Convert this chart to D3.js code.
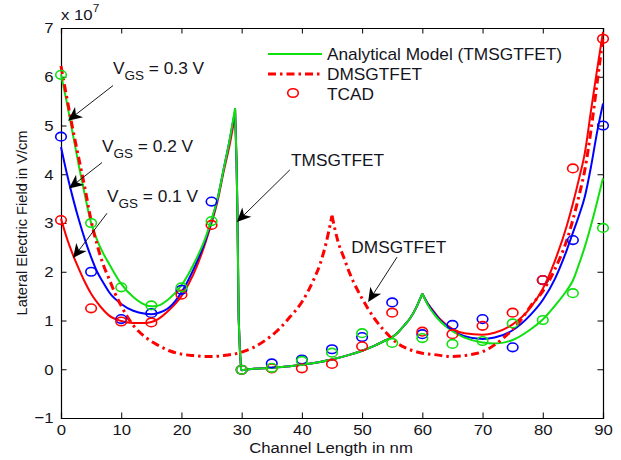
<!DOCTYPE html>
<html>
<head>
<meta charset="utf-8">
<script src="https://cdn.jsdelivr.net/npm/d3@7"></script>
<style>
  html, body { margin: 0; padding: 0; background: #fff; }
  svg { display: block; }
  text { font-family: "Liberation Sans", Arial, sans-serif; fill: #141420; }
</style>
</head>
<body>
<svg id="chart" width="621" height="460"></svg>
<script>
// ---- Lateral electric field along the channel (units of 1e7 V/cm) ----

// Tick values
const xTicks = [0, 10, 20, 30, 40, 50, 60, 70, 80, 90];
const yTicks = [-1, 0, 1, 2, 3, 4, 5, 6, 7];

// TMSGTFET analytical model, source-side region (0 – 28.9 nm)
const leftX     = [0, 1, 2, 3, 4, 5, 6, 7, 8, 10, 12, 14, 15, 16, 18, 20, 22, 24, 25, 26, 27, 28, 28.9];
const leftV03   = [6.05, 5.45, 4.8, 4.15, 3.55, 3.0, 2.65, 2.38, 2.16, 1.75, 1.48, 1.32, 1.29, 1.3, 1.45, 1.72, 2.15, 2.7, 3.08, 3.5, 4.1, 4.7, 5.35];
const leftV02   = [4.56, 4.0, 3.5, 3.05, 2.65, 2.3, 2.0, 1.78, 1.58, 1.34, 1.2, 1.14, 1.13, 1.15, 1.27, 1.58, 2.05, 2.65, 3.04, 3.5, 4.1, 4.7, 5.3];
const leftV01   = [3.09, 2.68, 2.34, 2.05, 1.78, 1.55, 1.37, 1.22, 1.1, 0.99, 0.95, 0.95, 0.97, 1.02, 1.22, 1.5, 1.95, 2.6, 3.0, 3.45, 4.05, 4.6, 5.2];

// Field drop at the first metal interface (shared by all biases)
const dropX     = [28.9, 29.15, 29.3, 29.4, 29.5, 29.7, 29.9, 30];
const dropV     = [5.35, 4.25, 3.2, 2.1, 1.05, 0.4, 0.0, -0.02];

// Middle region (30 – 60 nm), identical for all biases
const midX      = [30, 32, 35, 38, 40, 43, 45, 48, 50, 52, 54, 55, 56, 57, 58, 59, 60];
const midV      = [-0.02, 0.01, 0.03, 0.06, 0.09, 0.15, 0.2, 0.3, 0.38, 0.48, 0.6, 0.66, 0.76, 0.9, 1.05, 1.27, 1.55];

// Drain-side region (60 – 90 nm)
const rightX    = [60, 61, 62, 63, 65, 67, 70, 72, 75, 78, 80, 82, 84, 85, 86, 87, 88, 89, 90];
const rightV03  = [1.55, 1.3, 1.12, 0.98, 0.78, 0.65, 0.55, 0.53, 0.6, 0.82, 1.02, 1.3, 1.62, 1.82, 2.15, 2.52, 2.95, 3.42, 3.92];
const rightV02  = [1.55, 1.32, 1.15, 1.0, 0.8, 0.68, 0.62, 0.65, 0.8, 1.12, 1.42, 1.85, 2.45, 2.8, 3.15, 3.55, 4.15, 4.85, 5.45];
const rightV01  = [1.55, 1.33, 1.17, 1.02, 0.83, 0.74, 0.71, 0.75, 0.92, 1.27, 1.65, 2.22, 2.95, 3.4, 3.9, 4.45, 5.3, 6.13, 6.92];

// DMSGTFET reference device (two branches meeting at the 45 nm peak)
const dmsgX1    = [0, 1, 2, 3, 4, 5, 6, 7, 8, 9, 10, 11, 12, 14, 16, 18, 20, 22, 25, 27, 30, 32, 34, 36, 38, 40, 42, 43, 44, 45];
const dmsgV1    = [6.22, 5.55, 4.9, 4.3, 3.7, 3.05, 2.55, 2.15, 1.85, 1.55, 1.3, 1.08, 0.9, 0.66, 0.5, 0.38, 0.31, 0.28, 0.26, 0.28, 0.35, 0.45, 0.6, 0.8, 1.07, 1.38, 1.85, 2.15, 2.58, 3.15];
const dmsgX2    = [45, 46, 47, 48, 50, 52, 54, 56, 58, 60, 62, 65, 68, 70, 72, 74, 76, 78, 80, 82, 84, 86, 87, 88, 89, 90];
const dmsgV2    = [3.15, 2.62, 2.28, 1.95, 1.45, 1.05, 0.75, 0.52, 0.4, 0.33, 0.3, 0.26, 0.3, 0.36, 0.5, 0.7, 0.95, 1.3, 1.6, 2.05, 2.65, 3.55, 4.1, 4.9, 5.85, 6.8];

// TCAD simulation points
const tcadX     = [0, 5, 10, 15, 20, 25, 30, 35, 40, 45, 50, 55, 60, 65, 70, 75, 80, 85, 90];
const tcadV03   = [6.04, 3.0, 1.68, 1.31, 1.68, 3.04, -0.01, 0.03, 0.17, 0.34, 0.74, 0.54, 0.64, 0.52, 0.58, 0.94, 1.01, 1.56, 2.9];
const tcadV02   = [4.77, 2.0, 1.03, 1.15, 1.63, 3.44, -0.01, 0.12, 0.2, 0.41, 0.66, 1.37, 0.72, 0.91, 1.03, 0.45, 1.83, 2.65, 5.0];
const tcadV01   = [3.06, 1.25, 0.98, 0.96, 1.53, 2.96, -0.01, 0.02, 0.02, 0.11, 0.47, 1.16, 0.77, 0.72, 0.89, 1.16, 1.83, 4.12, 6.78];

// Text callouts: label, arrow start and arrow tip in data units
const callouts = [
  { main: "V", sub: "GS", rest: " = 0.3 V", at: [8.64, 6.05], from: [8.64, 5.82], to: [1.16, 5.1] },
  { main: "V", sub: "GS", rest: " = 0.2 V", at: [6.81, 4.45], from: [6.81, 4.24], to: [1.33, 3.71] },
  { main: "V", sub: "GS", rest: " = 0.1 V", at: [7.64, 3.43], from: [7.64, 3.2],  to: [1.99, 2.28] },
  { main: "TMSGTFET", at: [38.2, 4.17], from: [38.0, 4.09], to: [29.2, 3.02] },
  { main: "DMSGTFET", at: [48.2, 2.38], from: [55.8, 2.3],  to: [51.0, 1.38] }
];

const legendItems = ["Analytical Model (TMSGTFET)", "DMSGTFET", "TCAD"];

// ---- Drawing ----
const GREEN = "#10e010", BLUE = "#0000ff", RED = "#ff0000";
const FS = 15.5, SX = 1.08;

const svg = d3.select("#chart");
const x = d3.scaleLinear().domain([0, 90]).range([61, 603]);
const y = d3.scaleLinear().domain([-1, 7]).range([418, 28]);

const line = d3.line().x(d => x(d[0])).y(d => y(d[1])).curve(d3.curveMonotoneX);
const straight = d3.line().x(d => x(d[0])).y(d => y(d[1]));
const zip = (xs, vs) => xs.map((v, i) => [v, vs[i]]);

// Axes box with inward ticks
const tick = 5.5;
svg.append("g").attr("transform", `translate(0,${y(-1)})`)
  .call(d3.axisBottom(x).tickValues(xTicks).tickSize(-tick).tickPadding(6));
svg.append("g").attr("transform", `translate(${x(0)},0)`)
  .call(d3.axisLeft(y).tickValues(yTicks).tickSize(-tick).tickPadding(7));
svg.append("g").attr("transform", `translate(0,${y(7)})`)
  .call(d3.axisTop(x).tickValues(xTicks).tickSize(-tick).tickFormat(""));
svg.append("g").attr("transform", `translate(${x(90)},0)`)
  .call(d3.axisRight(y).tickValues(yTicks).tickSize(-tick).tickFormat(""));
svg.selectAll(".domain").attr("stroke", "#000").attr("stroke-width", 1.2);
svg.selectAll(".tick line").attr("stroke", "#000").attr("stroke-width", 1);
svg.selectAll(".tick text")
  .attr("font-size", FS).attr("font-family", "Liberation Sans, Arial, sans-serif")
  .attr("fill", "#141420").attr("transform", `scale(${SX},1)`);

// Exponent marker
const ex = svg.append("text").attr("transform", `translate(${x(0)},20) scale(${SX},1)`)
  .attr("font-size", FS);
ex.append("tspan").text("x 10");
ex.append("tspan").attr("font-size", 11).attr("dy", -8).text("7");

// Axis titles
svg.append("text").attr("transform", `translate(331,453) scale(${SX},1)`)
  .attr("text-anchor", "middle").attr("font-size", FS).text("Channel Length in nm");
svg.append("text").attr("transform", `translate(26.5,${y(3)}) rotate(-90)`)
  .attr("text-anchor", "middle").attr("font-size", 14.6).text("Lateral Electric Field in V/cm");

// Model curves (TMSGTFET) for each gate bias
const plot = svg.append("g");
const series = [
  { color: RED,   left: leftV01, right: rightV01 },
  { color: BLUE,  left: leftV02, right: rightV02 },
  { color: GREEN, left: leftV03, right: rightV03 }
];
series.forEach(s => {
  const g = plot.append("g").attr("fill", "none").attr("stroke", s.color).attr("stroke-width", 2);
  g.append("path").attr("d", line(zip(leftX, s.left)));
  g.append("path").attr("d", straight(zip(dropX, dropV)));
  g.append("path").attr("d", line(zip(midX, midV)));
  g.append("path").attr("d", line(zip(rightX, s.right)));
});

// DMSGTFET curve
const dash = "8,4,2.5,4";
const gd = plot.append("g").attr("fill", "none").attr("stroke", RED)
  .attr("stroke-width", 3).attr("stroke-dasharray", dash);
gd.append("path").attr("d", line(zip(dmsgX1, dmsgV1)));
gd.append("path").attr("d", line(zip(dmsgX2, dmsgV2)));

// TCAD markers
[[tcadV02, BLUE], [tcadV01, RED], [tcadV03, GREEN]].forEach(([vals, c]) => {
  plot.append("g").selectAll("ellipse").data(zip(tcadX, vals)).join("ellipse")
    .attr("cx", d => x(d[0])).attr("cy", d => y(d[1]))
    .attr("rx", 5.3).attr("ry", 4.3)
    .attr("fill", "none").attr("stroke", c).attr("stroke-width", 1.6);
});

// Callouts with arrows
function arrowHead(x0, y0, x1, y1) {
  const a = Math.atan2(y1 - y0, x1 - x0), L = 14, W = 6.5, N = 10;
  const ux = Math.cos(a), uy = Math.sin(a), px = -uy, py = ux;
  return `M${x1},${y1}L${x1 - ux * L + px * W},${y1 - uy * L + py * W}` +
         `L${x1 - ux * N},${y1 - uy * N}L${x1 - ux * L - px * W},${y1 - uy * L - py * W}Z`;
}
callouts.forEach(c => {
  const x0 = x(c.from[0]), y0 = y(c.from[1]), x1 = x(c.to[0]), y1 = y(c.to[1]);
  const a = Math.atan2(y1 - y0, x1 - x0);
  svg.append("line").attr("x1", x0).attr("y1", y0)
    .attr("x2", x1 - Math.cos(a) * 9).attr("y2", y1 - Math.sin(a) * 9)
    .attr("stroke", "#000").attr("stroke-width", 0.9);
  svg.append("path").attr("d", arrowHead(x0, y0, x1, y1)).attr("fill", "#000");
  const t = svg.append("text").attr("transform", `translate(${x(c.at[0])},${y(c.at[1])}) scale(${SX},1)`)
    .attr("font-size", 16);
  t.append("tspan").text(c.main);
  if (c.sub) {
    t.append("tspan").attr("font-size", 12.5).attr("dy", 6).text(c.sub);
    t.append("tspan").attr("dy", -6).text(c.rest);
  }
});

// Legend
const lg = svg.append("g");
const lx0 = 268, lx1 = 322, ly = [54, 74, 94];
lg.append("line").attr("x1", lx0).attr("x2", lx1).attr("y1", ly[0]).attr("y2", ly[0])
  .attr("stroke", GREEN).attr("stroke-width", 2);
lg.append("line").attr("x1", lx0).attr("x2", lx1).attr("y1", ly[1]).attr("y2", ly[1])
  .attr("stroke", RED).attr("stroke-width", 3).attr("stroke-dasharray", dash);
lg.append("ellipse").attr("cx", (lx0 + lx1) / 2 - 2).attr("cy", ly[2] - 1).attr("rx", 5.3).attr("ry", 4.3)
  .attr("fill", "none").attr("stroke", RED).attr("stroke-width", 1.6);
legendItems.forEach((name, i) => {
  lg.append("text").attr("transform", `translate(327,${ly[i] + 6}) scale(${SX},1)`)
    .attr("font-size", 16).text(name);
});
</script>
</body>
</html>
